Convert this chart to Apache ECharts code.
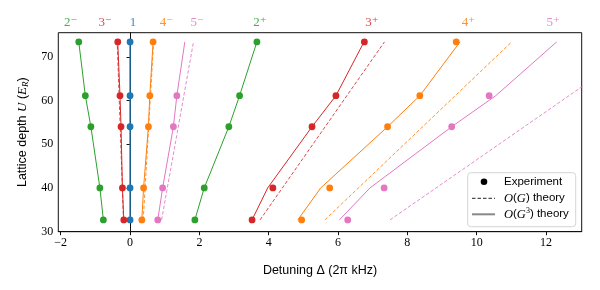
<!DOCTYPE html>
<html><head><meta charset="utf-8">
<script src="https://cdn.jsdelivr.net/npm/echarts@6/dist/echarts.min.js"></script>
<style>html,body{margin:0;padding:0;background:#fff}#c{width:600px;height:290px}</style>
</head><body><div id="c"></div>
<script>
// Lattice depths (E_R) at which modes were measured / computed
const depth = [32.7, 40, 54, 61.1, 73.4];
const depthEnds = [32.7, 73.4];

// Experiment (detuning, 2π kHz)
const exp1  = [0, 0, 0, 0, 0];
const exp2m = [-0.77, -0.87, -1.13, -1.29, -1.48];
const exp3m = [-0.18, -0.22, -0.26, -0.29, -0.355];
const exp4m = [0.34, 0.39, 0.53, 0.57, 0.665];
const exp5m = [0.80, 0.94, 1.25, 1.35, null];
const exp2p = [1.87, 2.14, 2.85, 3.16, 3.66];
const exp3p = [3.52, 4.12, 5.25, 5.94, 6.76];
const exp4p = [4.95, 5.76, 7.43, 8.36, 9.41];
const exp5p = [6.28, 7.33, 9.28, 10.36, null];

// O(G^3) theory (solid)
const g3_1  = [0, 0, 0, 0, 0];
const g3_2m = [-0.77, -0.87, -1.13, -1.29, -1.48];
const g3_3m = [-0.18, -0.22, -0.26, -0.29, -0.355];
const g3_4m = [0.34, 0.39, 0.53, 0.57, 0.665];
const g3_5m = [0.80, 0.94, 1.25, 1.35, 1.58];
const g3_2p = [1.87, 2.14, 2.85, 3.16, 3.66];
const g3_3p = [3.52, 3.97, 5.25, 5.94, 6.75];
const g3_4p = [4.84, 5.50, 7.43, 8.36, 9.52];
const g3_5p = [6.04, 6.92, 9.28, 10.55, 12.31];

// O(G) theory (dashed), at depthEnds
const g1_3m = [-0.19, -0.37];
const g1_4m = [0.38, 0.68];
const g1_5m = [0.91, 1.83];
const g1_3p = [3.75, 7.34];
const g1_4p = [5.62, 11.01];
const g1_5p = [7.50, 14.90];

// Mode labels along the top
const modeNames = ['2⁻', '3⁻', '1', '4⁻', '5⁻', '2⁺', '3⁺', '4⁺', '5⁺'];
const modeLabelX = [-1.71, -0.72, 0.087, 1.05, 1.94, 3.75, 6.98, 9.76, 12.21];
const labelDepth = 77.8;

const xTicks = [-2, 0, 2, 4, 6, 8, 10, 12];
const yTicks = [30, 40, 50, 60, 70];

const C = {blue:'#1f77b4', orange:'#ff7f0e', green:'#2ca02c', red:'#d62728', pink:'#e377c2'};
const modeColors = [C.green, C.red, C.blue, C.orange, C.pink, C.green, C.red, C.orange, C.pink];

function zip(xs, ys) {
  const out = [];
  for (let i = 0; i < xs.length; i++) if (xs[i] !== null && xs[i] !== undefined) out.push([xs[i], ys[i]]);
  return out;
}
const series = [];
function solid(xs, color, w) {
  series.push({type:'line', data: zip(xs, depth), symbol:'none', lineStyle:{color, width:w||1}, z:3, silent:true});
}
function dashed(xs, color) {
  series.push({type:'line', data: zip(xs, depthEnds), symbol:'none', lineStyle:{color, width:1, type:[3.5,2], opacity:0.85}, z:2, silent:true});
}
function pts(xs, color) {
  series.push({type:'scatter', data: zip(xs, depth), symbolSize:6.8, itemStyle:{color, opacity:1}, z:5, silent:true});
}
dashed(g1_3m, C.red); dashed(g1_4m, C.orange); dashed(g1_5m, C.pink);
dashed(g1_3p, C.red); dashed(g1_4p, C.orange); dashed(g1_5p, C.pink);
solid(g3_1, C.blue, 1.4); solid(g3_2m, C.green); solid(g3_3m, C.red); solid(g3_4m, C.orange);
solid(g3_5m, C.pink); solid(g3_2p, C.green); solid(g3_3p, C.red); solid(g3_4p, C.orange); solid(g3_5p, C.pink);
pts(exp1, C.blue); pts(exp2m, C.green); pts(exp3m, C.red); pts(exp4m, C.orange); pts(exp5m, C.pink);
pts(exp2p, C.green); pts(exp3p, C.red); pts(exp4p, C.orange); pts(exp5p, C.pink);

series.push({
  type:'scatter', clip:false, silent:true, symbolSize:0,
  data: modeLabelX.map((x, i) => ({value:[x, labelDepth],
    label:{show:true, position:'inside', formatter: modeNames[i], color: modeColors[i], opacity:0.85,
      fontFamily:'Liberation Serif, DejaVu Serif, serif', fontSize:13}})),
  z:6
});

const chart = echarts.init(document.getElementById('c'), null, {renderer:'canvas'});
const serif = 'Liberation Serif, DejaVu Serif, serif';
const sans = 'Liberation Sans, DejaVu Sans, sans-serif';
chart.setOption({
  animation:false,
  grid:{left:58.3, right:18.3, top:32.7, bottom:58.3, show:true, borderColor:'#111', borderWidth:1, backgroundColor:'transparent'},
  xAxis:{type:'value', min:-2.07, max:13.03,
    axisLine:{show:true, lineStyle:{color:'#111', width:1}},
    axisTick:{show:true, length:3.5, lineStyle:{color:'#111'}, customValues: xTicks},
    axisLabel:{color:'#000', fontFamily:serif, fontSize:12, margin:5, customValues: xTicks,
      formatter: v => String(v).replace('-', '−')},
    splitLine:{show:false},
    name:'Detuning Δ (2π kHz)', nameLocation:'middle', nameGap:32.5,
    nameTextStyle:{color:'#000', fontFamily:sans, fontSize:12.5}
  },
  yAxis:{type:'value', min:30, max:75.5,
    axisLine:{show:true, lineStyle:{color:'#111', width:1}},
    axisTick:{show:true, length:3.5, lineStyle:{color:'#111'}, customValues: yTicks},
    axisLabel:{color:'#000', fontFamily:serif, fontSize:12, margin:5, customValues: yTicks},
    splitLine:{show:false},
    name:'Lattice depth {it|U} ({it|E}{sub|R})', nameLocation:'middle', nameGap:28.5, nameRotate:90,
    nameTextStyle:{color:'#000', fontFamily:sans, fontSize:12.5,
      rich:{it:{fontFamily:serif, fontStyle:'italic', fontSize:13, color:'#000'},
            sub:{fontFamily:serif, fontStyle:'italic', fontSize:9, color:'#000', padding:[6,0,0,0]}}}
  },
  series,
  graphic:[
    {type:'rect', z:100, shape:{x:467.7, y:172.7, width:108, height:54, r:3},
      style:{fill:'rgba(255,255,255,0.85)', stroke:'#d4d4d4', lineWidth:1}},
    {type:'circle', z:101, shape:{cx:484, cy:181.7, r:3.3}, style:{fill:'#000'}},
    {type:'line', z:101, shape:{x1:472, y1:198.3, x2:495, y2:198.3}, style:{stroke:'#222', lineWidth:1, lineDash:[3.5,2]}},
    {type:'line', z:101, shape:{x1:472, y1:214.3, x2:495, y2:214.3}, style:{stroke:'#888', lineWidth:2}},
    {type:'text', z:101, x:504, y:181.7, style:{text:'Experiment', fill:'#000', font:'11.5px Liberation Sans, DejaVu Sans, sans-serif', verticalAlign:'middle'}},
    {type:'text', z:101, x:504, y:198.3, style:{text:'{o|O}{n|(}{o|G}{n|) theory}', fill:'#000', verticalAlign:'middle',
      font:'11.5px Liberation Sans, sans-serif',
      rich:{o:{fontFamily:serif, fontStyle:'italic', fontSize:12.5}, n:{fontFamily:sans, fontSize:11.5}}}},
    {type:'text', z:101, x:504, y:214.3, style:{text:'{o|O}{n|(}{o|G}{s|3}{n|) theory}', fill:'#000', verticalAlign:'middle',
      font:'11.5px Liberation Sans, sans-serif',
      rich:{o:{fontFamily:serif, fontStyle:'italic', fontSize:12.5}, n:{fontFamily:sans, fontSize:11.5},
            s:{fontFamily:serif, fontSize:8, padding:[0,0,6,0]}}}}
  ]
});
</script></body></html>
